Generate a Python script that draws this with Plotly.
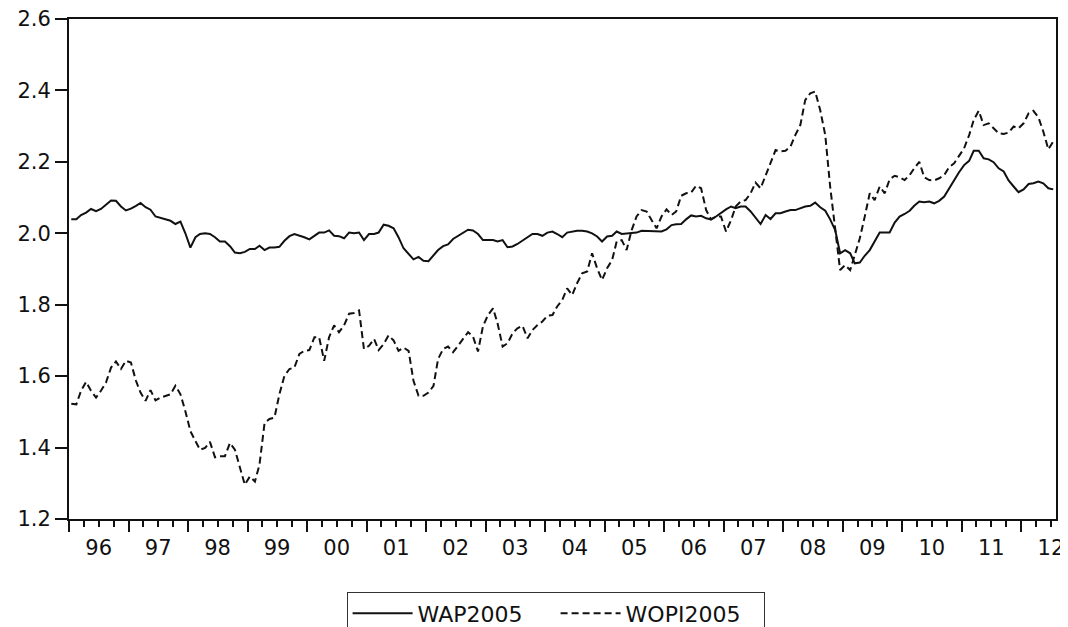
import pandas as pd
import plotly.graph_objects as go

# monthly observations, 1996M01 - 2012M07
START = "1996-01"

wap2005 = [
    2.039, 2.039, 2.051, 2.058, 2.068, 2.062, 2.068, 2.081, 2.092, 2.091, 2.075, 2.064,
    2.069, 2.077, 2.085, 2.073, 2.066, 2.047, 2.043, 2.039, 2.035, 2.026, 2.033, 2.000,
    1.960, 1.989, 1.998, 2.000, 1.998, 1.989, 1.977, 1.977, 1.964, 1.946, 1.944, 1.948,
    1.956, 1.956, 1.965, 1.953, 1.960, 1.960, 1.962, 1.979, 1.992, 1.998, 1.994, 1.989,
    1.983, 1.992, 2.002, 2.002, 2.008, 1.993, 1.992, 1.986, 2.002, 2.000, 2.002, 1.981,
    1.998, 1.998, 2.002, 2.024, 2.021, 2.014, 1.989, 1.958, 1.942, 1.927, 1.934, 1.923,
    1.922, 1.939, 1.953, 1.964, 1.969, 1.984, 1.992, 2.000, 2.010, 2.008, 1.998, 1.981,
    1.981, 1.981, 1.977, 1.981, 1.961, 1.963, 1.970, 1.979, 1.988, 1.998, 1.998, 1.993,
    2.002, 2.005, 1.998, 1.989, 2.002, 2.005, 2.007, 2.007, 2.005, 2.000, 1.991, 1.977,
    1.991, 1.993, 2.005, 1.998, 2.000, 2.000, 2.002, 2.007, 2.007, 2.007, 2.005, 2.005,
    2.011, 2.023, 2.025, 2.026, 2.039, 2.050, 2.047, 2.049, 2.042, 2.039, 2.047, 2.058,
    2.067, 2.075, 2.070, 2.075, 2.075, 2.061, 2.045, 2.026, 2.051, 2.040, 2.056, 2.056,
    2.061, 2.065, 2.065, 2.070, 2.075, 2.077, 2.086, 2.073, 2.063, 2.039, 2.009, 1.944,
    1.953, 1.944, 1.916, 1.918, 1.937, 1.953, 1.977, 2.002, 2.002, 2.002, 2.030, 2.047,
    2.054, 2.063, 2.077, 2.089, 2.087, 2.089, 2.084, 2.091, 2.103, 2.126, 2.149, 2.171,
    2.191, 2.203, 2.231, 2.231, 2.210, 2.207, 2.199, 2.182, 2.173, 2.148, 2.131, 2.115,
    2.123, 2.138, 2.140, 2.145, 2.140, 2.126, 2.123,
]

wopi2005 = [
    1.523, 1.521, 1.559, 1.584, 1.559, 1.540, 1.559, 1.582, 1.624, 1.641, 1.620, 1.643,
    1.638, 1.587, 1.554, 1.531, 1.561, 1.532, 1.540, 1.545, 1.549, 1.573, 1.549, 1.502,
    1.446, 1.418, 1.394, 1.399, 1.416, 1.373, 1.376, 1.376, 1.413, 1.394, 1.343, 1.296,
    1.319, 1.305, 1.352, 1.468, 1.480, 1.484, 1.549, 1.601, 1.620, 1.624, 1.662, 1.671,
    1.673, 1.709, 1.709, 1.643, 1.709, 1.742, 1.723, 1.742, 1.775, 1.777, 1.784, 1.676,
    1.685, 1.704, 1.673, 1.690, 1.714, 1.700, 1.671, 1.680, 1.671, 1.587, 1.545, 1.545,
    1.554, 1.573, 1.648, 1.676, 1.683, 1.667, 1.685, 1.704, 1.723, 1.711, 1.669, 1.739,
    1.771, 1.790, 1.748, 1.683, 1.692, 1.720, 1.734, 1.741, 1.706, 1.729, 1.743, 1.753,
    1.769, 1.771, 1.795, 1.813, 1.846, 1.827, 1.860, 1.888, 1.893, 1.944, 1.902, 1.869,
    1.902, 1.925, 1.977, 1.981, 1.953, 2.009, 2.047, 2.065, 2.061, 2.037, 2.014, 2.047,
    2.067, 2.051, 2.061, 2.105, 2.112, 2.114, 2.133, 2.126, 2.065, 2.039, 2.047, 2.047,
    2.005, 2.037, 2.075, 2.089, 2.093, 2.112, 2.142, 2.126, 2.163, 2.196, 2.233, 2.229,
    2.231, 2.243, 2.275, 2.303, 2.373, 2.392, 2.397, 2.345, 2.275, 2.131, 2.019, 1.897,
    1.911, 1.897, 1.939, 1.986, 2.046, 2.112, 2.093, 2.131, 2.112, 2.151, 2.161, 2.157,
    2.149, 2.163, 2.182, 2.200, 2.157, 2.149, 2.148, 2.154, 2.163, 2.185, 2.196, 2.215,
    2.238, 2.275, 2.317, 2.343, 2.303, 2.308, 2.294, 2.280, 2.278, 2.282, 2.299, 2.294,
    2.308, 2.336, 2.343, 2.325, 2.285, 2.235, 2.257,
]

year_labels = ["96", "97", "98", "99", "00", "01", "02", "03", "04",
               "05", "06", "07", "08", "09", "10", "11", "12"]
y_ticks = [1.2, 1.4, 1.6, 1.8, 2.0, 2.2, 2.4, 2.6]

# each observation sits in the middle of its month
dates = pd.date_range(START, periods=len(wap2005), freq="MS") + pd.Timedelta(days=14)
x_range = [pd.Timestamp(START), pd.Timestamp(START) + pd.DateOffset(months=len(wap2005))]
years = [pd.Timestamp(f"{1996 + k}-01-01") for k in range(len(year_labels))]
mid_years = [y + pd.DateOffset(months=6) for y in years]

FONT = "DejaVu Sans"
INK = "#111111"

fig = go.Figure()
fig.add_trace(go.Scatter(x=dates, y=wap2005, name="WAP2005", mode="lines",
                         line=dict(color=INK, width=2)))
# second series on the overlaid axis that carries the year labels
fig.add_trace(go.Scatter(x=dates, y=wopi2005, name="WOPI2005", mode="lines",
                         xaxis="x2", line=dict(color=INK, width=2, dash="7px,4px")))

# the page body adds an 8px margin, so the figure is 8px smaller than the window
fig.update_layout(
    width=1060, height=619,
    paper_bgcolor="white", plot_bgcolor="white",
    font=dict(family=FONT, size=21, color=INK),
    margin=dict(l=61, r=12, t=11, b=108, autoexpand=False),
    showlegend=True,
    legend=dict(
        orientation="h", x=0.493, xanchor="center", y=-0.145, yanchor="top",
        bordercolor="#333333", borderwidth=1, bgcolor="white",
        font=dict(family=FONT, size=22, color=INK),
        itemwidth=60, entrywidth=133, entrywidthmode="pixels", tracegroupgap=0,
    ),
    xaxis=dict(
        type="date", range=x_range,
        tickmode="array", tickvals=years, showticklabels=False,
        ticks="outside", ticklen=11, tickwidth=2, tickcolor=INK,
        minor=dict(ticks="outside", ticklen=6, tickwidth=1.5, tickcolor=INK,
                   dtick="M3", tick0=START + "-01"),
        showline=True, linewidth=2, linecolor=INK, mirror=True,
        showgrid=False, zeroline=False,
    ),
    xaxis2=dict(
        type="date", range=x_range, overlaying="x", anchor="y", side="bottom",
        tickmode="array", tickvals=mid_years, ticktext=year_labels,
        ticks="outside", ticklen=10, tickcolor="rgba(0,0,0,0)",
        ticklabeloverflow="allow",
        showline=False, showgrid=False, zeroline=False,
        tickfont=dict(family=FONT, size=21, color=INK),
    ),
    yaxis=dict(
        range=[1.2, 2.6], tickmode="array", tickvals=y_ticks,
        ticktext=[f"{v:.1f}" for v in y_ticks], ticklabeloverflow="allow",
        ticks="outside", ticklen=12, tickwidth=2, tickcolor=INK,
        tickfont=dict(family=FONT, size=21, color=INK),
        showline=True, linewidth=2, linecolor=INK, mirror=True,
        showgrid=False, zeroline=False,
    ),
)

fig.write_html("out.html")
